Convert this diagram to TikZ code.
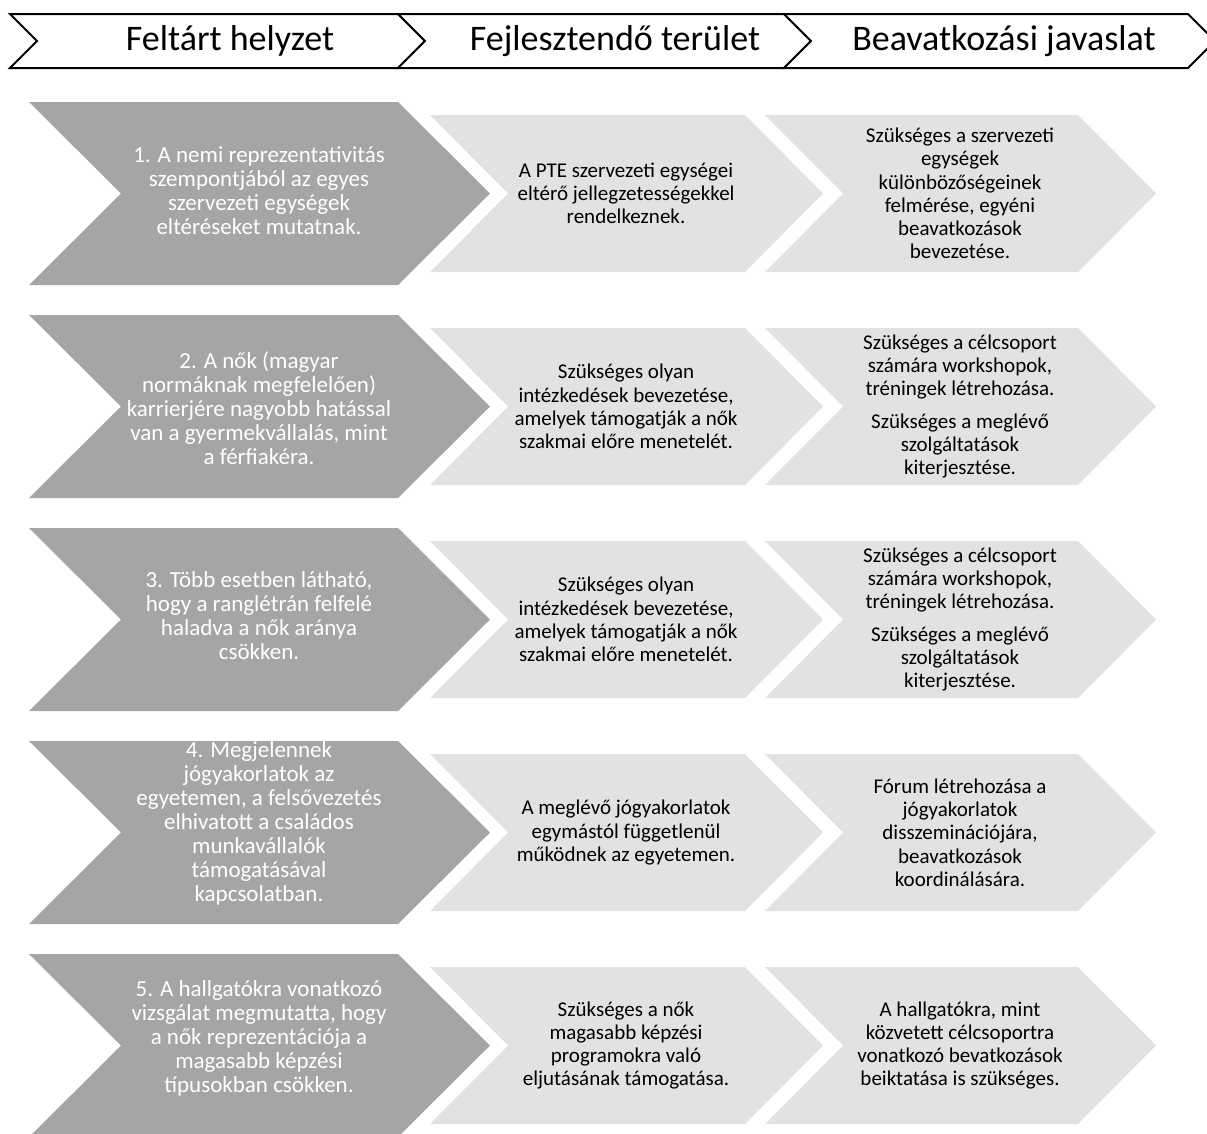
\documentclass[tikz,border=0pt]{standalone}
\usepackage{fontspec}
\setmainfont{Carlito}
\definecolor{darkgr}{HTML}{A5A5A5}
\definecolor{lightgr}{HTML}{E2E2E2}
\newcommand\chevshape[6]{%
  \fill[#6] (#1,#2) -- (#3,#2) -- ({#3+#5},{#2+#4/2}) -- (#3,{#2+#4}) -- (#1,{#2+#4}) -- ({#1+#5},{#2+#4/2}) -- cycle;}
\begin{document}
\begin{tikzpicture}[x=1pt,y=-1pt,
  headtxt/.style={font=\fontsize{36}{40}\selectfont, inner sep=0pt},
  darktxt/.style={font=\fontsize{23}{24}\selectfont, text=white, align=center, inner sep=0pt},
  lighttxt/.style={font=\fontsize{21}{23.3}\selectfont, text=black, align=center, inner sep=0pt},
  headline/.style={draw=black, line width=2pt, fill=white, line join=miter}]
\useasboundingbox (0,0) rectangle (1207,1133);
\clip (0,0) rectangle (1207,1133);
% header
\draw[headline] (10,14) -- (398,14) -- (425,41) -- (398,68) -- (10,68) -- (37,41) -- cycle;
\draw[headline] (398,14) -- (784,14) -- (811,41) -- (784,68) -- (398,68) -- (425,41) -- cycle;
\draw[headline] (784,14) -- (1188,14) -- (1215,41) -- (1188,68) -- (784,68) -- (811,41) -- cycle;
\node[headtxt] (head1) at (230,41) {Feltárt helyzet};
\node[headtxt] (head2) at (615,41) {Fejlesztendő terület};
\node[headtxt] (head3) at (1004,41) {Beavatkozási javaslat};
% rows
\foreach \i in {0,...,4}{
  \pgfmathsetmacro\T{102+213*\i}
  \pgfmathsetmacro\L{115+213*\i}
  \chevshape{29}{\T}{398}{183}{92}{darkgr}
  \chevshape{430}{\L}{745}{157}{78}{lightgr}
  \chevshape{765}{\L}{1078}{157}{78}{lightgr}
}
% row 1
\node[darktxt] (d1) at (259,190.5) {1. A nemi reprezentativitás\\szempontjából az egyes\\szervezeti egységek\\eltéréseket mutatnak.};
\node[lighttxt] (m1) at (626,193.5) {A PTE szervezeti egységei\\eltérő jellegzetességekkel\\rendelkeznek.};
\node[lighttxt] (r1) at (960,193.5) {Szükséges a szervezeti\\egységek\\különbözőségeinek\\felmérése, egyéni\\beavatkozások\\bevezetése.};
% row 2
\node[darktxt] (d2) at (259,408) {2. A nők (magyar\\normáknak megfelelően)\\karrierjére nagyobb hatással\\van a gyermekvállalás, mint\\a férfiakéra.};
\node[lighttxt] (m2) at (626,406.5) {Szükséges olyan\\intézkedések bevezetése,\\amelyek támogatják a nők\\szakmai előre menetelét.};
\node[lighttxt] (r2) at (960,406.5) {Szükséges a célcsoport\\számára workshopok,\\tréningek létrehozása.\\[9pt]Szükséges a meglévő\\szolgáltatások\\kiterjesztése.};
% row 3
\node[darktxt] (d3) at (259,616) {3. Több esetben látható,\\hogy a ranglétrán felfelé\\haladva a nők aránya\\csökken.};
\node[lighttxt] (m3) at (626,619.5) {Szükséges olyan\\intézkedések bevezetése,\\amelyek támogatják a nők\\szakmai előre menetelét.};
\node[lighttxt] (r3) at (960,619.5) {Szükséges a célcsoport\\számára workshopok,\\tréningek létrehozása.\\[9pt]Szükséges a meglévő\\szolgáltatások\\kiterjesztése.};
% row 4
\node[darktxt] (d4) at (259,823) {4. Megjelennek\\jógyakorlatok az\\egyetemen, a felsővezetés\\elhivatott a családos\\munkavállalók\\támogatásával\\kapcsolatban.};
\node[lighttxt] (m4) at (626,832.5) {A meglévő jógyakorlatok\\egymástól függetlenül\\működnek az egyetemen.};
\node[lighttxt] (r4) at (960,832.5) {Fórum létrehozása a\\jógyakorlatok\\disszeminációjára,\\beavatkozások\\koordinálására.};
% row 5
\node[darktxt] (d5) at (259,1038) {5. A hallgatókra vonatkozó\\vizsgálat megmutatta, hogy\\a nők reprezentációja a\\magasabb képzési\\típusokban csökken.};
\node[lighttxt] (m5) at (626,1045.5) {Szükséges a nők\\magasabb képzési\\programokra való\\eljutásának támogatása.};
\node[lighttxt] (r5) at (960,1045.5) {A hallgatókra, mint\\közvetett célcsoportra\\vonatkozó bevatkozások\\beiktatása is szükséges.};
\end{tikzpicture}
\end{document}
